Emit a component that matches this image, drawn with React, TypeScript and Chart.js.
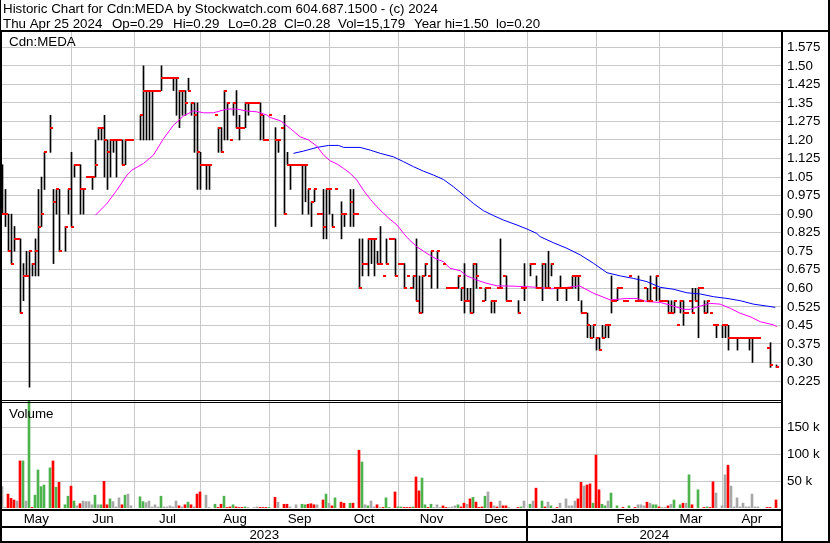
import React, { useEffect, useRef } from "react";
import { Chart, registerables } from "chart.js";

Chart.register(...registerables);

const _ = null;

// ---------- text ----------
const HEADER_1 = "Historic Chart for Cdn:MEDA by Stockwatch.com 604.687.1500 - (c) 2024";
const HEADER_2 = ["Thu Apr 25 2024", "Op=0.29", "Hi=0.29", "Lo=0.28", "Cl=0.28", "Vol=15,179", "Year hi=1.50", "lo=0.20"];
const PRICE_TITLE = "Cdn:MEDA";
const VOLUME_TITLE = "Volume";

// ---------- categories / ticks ----------
const MONTH_NAMES = ["May", "Jun", "Jul", "Aug", "Sep", "Oct", "Nov", "Dec", "Jan", "Feb", "Mar", "Apr"];
const MONTH_START = [23, 44, 66, 89, 109, 132, 154, 175, 198, 219, 240]; // trading-day index of month gridlines
const YEAR_NAMES = ["2023", "2024"];
const YEAR_START = 175;
const PRICE_TICKS = [0.225, 0.3, 0.375, 0.45, 0.525, 0.6, 0.675, 0.75, 0.825, 0.9, 0.975, 1.05, 1.125, 1.2, 1.275, 1.35, 1.425, 1.5, 1.575];
const PRICE_LABELS = ["0.225", "0.30", "0.375", "0.45", "0.525", "0.60", "0.675", "0.75", "0.825", "0.90", "0.975", "1.05", "1.125", "1.20", "1.275", "1.35", "1.425", "1.50", "1.575"];
const VOLUME_TICKS = [50000, 100000, 150000];
const VOLUME_LABELS = ["50 k", "100 k", "150 k"];

// ---------- daily prices (one entry per weekday, May 1 2023 .. Apr 25 2024) ----------
const HIGH = [
  /* May */ 1.10, 1.00, 0.90, 0.90, 0.85, 0.80, 0.80, 0.70, 0.75, 0.75, 0.70, 0.80, 1.00, 1.05, 1.15, _, 1.30, 1.00, 1.00, 1.00, _, 0.85, 1.00,
  /* Jun */ 1.15, 1.10, 1.10, 1.10, 1.00, 1.05, 1.05, 1.05, 1.20, 1.25, 1.25, 1.30, 1.20, 1.20, 1.20, 1.20, 1.20, 1.20, 1.20, 1.20, 1.20, _,
  /* Jul */ _, 1.30, 1.50, 1.40, 1.40, 1.40, 1.40, 1.40, 1.50, 1.45, 1.45, 1.45, 1.45, 1.45, 1.40, 1.40, 1.40, 1.45, 1.35, 1.35, 1.35,
  /* Aug */ 1.15, 1.10, 1.10, 1.10, _, 1.30, 1.25, 1.25, 1.40, 1.35, 1.20, 1.35, 1.40, 1.30, 1.25, 1.35, 1.35, 1.35, 1.35, 1.35, 1.35, 1.30, 1.20,
  /* Sep */ 1.30, _, 1.25, 1.20, 1.25, 1.30, 1.15, 1.10, 1.10, 1.10, 1.10, 1.10, 1.10, 1.00, 0.95, 1.00, 0.90, 0.90, 1.00, 1.00, 1.00,
  /* Oct */ 0.90, 1.00, _, 0.95, 0.90, _, 1.00, 1.00, 0.90, 0.80, 0.80, 0.70, 0.80, 0.80, 0.80, 0.75, 0.85, 0.65, 0.80, 0.80, 0.80, 0.80,
  /* Nov */ 0.70, 0.70, 0.70, 0.65, 0.60, 0.65, 0.80, 0.65, 0.65, 0.70, 0.65, 0.75, _, 0.75, _, 0.70, 0.60, 0.60, 0.60, 0.60, 0.65, 0.60,
  /* Dec */ 0.70, 0.60, 0.60, 0.70, 0.70, 0.60, 0.55, 0.60, 0.60, 0.55, 0.55, 0.60, 0.80, 0.65, 0.65, 0.55, _, _, 0.55, 0.60, 0.70,
  /* Jan */ _, 0.70, 0.70, 0.65, 0.60, 0.70, 0.70, 0.75, 0.70, 0.60, 0.60, 0.65, 0.60, 0.60, 0.60, 0.65, 0.65, 0.65, 0.55, 0.50, 0.50, 0.45, 0.45,
  /* Feb */ 0.40, 0.40, 0.45, 0.45, 0.45, 0.65, 0.55, 0.60, 0.60, 0.55, 0.55, 0.65, _, 0.55, 0.65, 0.55, 0.60, 0.60, 0.65, 0.60, 0.65,
  /* Mar */ 0.60, 0.55, 0.55, 0.55, 0.55, 0.55, 0.45, 0.55, 0.55, 0.50, 0.55, 0.60, 0.60, 0.60, 0.60, 0.55, 0.55, 0.50, 0.45, 0.45, _,
  /* Apr */ 0.45, 0.45, 0.45, 0.40, 0.40, 0.40, 0.40, 0.40, 0.40, 0.40, 0.40, 0.40, 0.40, _, _, 0.36, 0.38, _, 0.29,
];
const LOW = [
  /* May */ 0.90, 0.85, 0.75, 0.70, 0.75, 0.80, 0.50, 0.55, 0.65, 0.20, 0.65, 0.65, 0.65, 0.85, 1.00, _, 1.15, 0.70, 0.90, 0.75, _, 0.75, 0.90,
  /* Jun */ 0.85, 1.05, 1.10, 0.90, 0.90, 1.05, 1.05, 1.00, 1.05, 1.20, 1.20, 1.05, 1.00, 1.05, 1.15, 1.05, 1.20, 1.10, 1.10, 1.20, 1.20, _,
  /* Jul */ _, 1.20, 1.20, 1.20, 1.20, 1.20, 1.40, 1.40, 1.40, 1.45, 1.45, 1.45, 1.40, 1.30, 1.25, 1.30, 1.30, 1.40, 1.30, 1.15, 1.00,
  /* Aug */ 1.00, 1.10, 1.00, 1.00, _, 1.30, 1.15, 1.15, 1.20, 1.20, 1.20, 1.30, 1.25, 1.20, 1.25, 1.25, 1.30, 1.35, 1.35, 1.35, 1.20, 1.20, 1.20,
  /* Sep */ 1.30, _, 0.85, 1.15, 1.25, 0.90, 1.10, 1.00, 1.10, 1.10, 1.10, 0.90, 0.95, 0.90, 0.85, 0.95, 0.90, 0.90, 0.80, 0.80, 0.90,
  /* Oct */ 0.85, 1.00, _, 0.80, 0.85, _, 0.85, 0.85, 0.90, 0.60, 0.65, 0.70, 0.65, 0.70, 0.65, 0.70, 0.70, 0.65, 0.70, 0.80, 0.80, 0.65,
  /* Nov */ 0.70, 0.70, 0.60, 0.65, 0.60, 0.60, 0.55, 0.50, 0.50, 0.65, 0.65, 0.60, _, 0.60, _, 0.70, 0.60, 0.60, 0.60, 0.60, 0.60, 0.55,
  /* Dec */ 0.50, 0.55, 0.50, 0.50, 0.60, 0.60, 0.55, 0.55, 0.60, 0.50, 0.50, 0.60, 0.60, 0.65, 0.55, 0.55, _, _, 0.50, 0.60, 0.55,
  /* Jan */ _, 0.65, 0.70, 0.60, 0.60, 0.55, 0.60, 0.60, 0.65, 0.60, 0.55, 0.60, 0.60, 0.55, 0.60, 0.60, 0.60, 0.55, 0.50, 0.50, 0.40, 0.40, 0.40,
  /* Feb */ 0.35, 0.35, 0.40, 0.40, 0.40, 0.50, 0.55, 0.55, 0.60, 0.55, 0.55, 0.65, _, 0.55, 0.55, 0.55, 0.60, 0.55, 0.55, 0.60, 0.55,
  /* Mar */ 0.55, 0.55, 0.55, 0.50, 0.50, 0.50, 0.45, 0.50, 0.45, 0.50, 0.55, 0.50, 0.55, 0.40, 0.60, 0.50, 0.50, 0.50, 0.45, 0.40, _,
  /* Apr */ 0.40, 0.40, 0.35, 0.40, 0.40, 0.35, 0.40, 0.40, 0.40, 0.35, 0.30, 0.40, 0.40, _, _, 0.36, 0.28, _, 0.28,
];
const CLOSE = [
  /* May */ 0.90, 0.90, 0.75, 0.70, 0.80, 0.80, 0.50, 0.65, 0.65, 0.75, 0.70, 0.75, 0.85, 0.90, 1.15, _, 1.25, 0.95, 1.00, 0.75, _, 0.85, 1.00,
  /* Jun */ 0.85, 1.10, 1.10, 1.00, 1.00, 1.05, 1.05, 1.05, 1.10, 1.25, 1.25, 1.20, 1.15, 1.20, 1.20, 1.20, 1.20, 1.10, 1.20, 1.20, 1.20, _,
  /* Jul */ _, 1.30, 1.40, 1.40, 1.40, 1.40, 1.40, 1.40, 1.45, 1.45, 1.45, 1.45, 1.45, 1.45, 1.40, 1.40, 1.35, 1.40, 1.35, 1.30, 1.15,
  /* Aug */ 1.10, 1.10, 1.10, 1.10, _, 1.30, 1.25, 1.15, 1.40, 1.35, 1.20, 1.35, 1.25, 1.25, 1.25, 1.35, 1.35, 1.35, 1.35, 1.35, 1.30, 1.20, 1.20,
  /* Sep */ 1.30, _, 1.20, 1.20, 1.25, 0.90, 1.10, 1.10, 1.10, 1.10, 1.10, 1.10, 1.10, 1.00, 0.95, 1.00, 0.90, 0.90, 0.85, 1.00, 1.00,
  /* Oct */ 0.85, 1.00, _, 0.90, 0.90, _, 0.95, 0.90, 0.90, 0.60, 0.70, 0.70, 0.80, 0.80, 0.80, 0.70, 0.70, 0.65, 0.70, 0.80, 0.80, 0.65,
  /* Nov */ 0.70, 0.70, 0.60, 0.65, 0.60, 0.65, 0.55, 0.50, 0.65, 0.70, 0.65, 0.75, _, 0.75, _, 0.70, 0.60, 0.60, 0.60, 0.60, 0.65, 0.60,
  /* Dec */ 0.55, 0.55, 0.50, 0.70, 0.65, 0.60, 0.55, 0.60, 0.60, 0.55, 0.55, 0.60, 0.60, 0.65, 0.55, 0.55, _, _, 0.50, 0.60, 0.60,
  /* Jan */ _, 0.70, 0.70, 0.60, 0.60, 0.70, 0.60, 0.60, 0.70, 0.60, 0.60, 0.60, 0.60, 0.60, 0.60, 0.65, 0.65, 0.65, 0.50, 0.50, 0.45, 0.40, 0.45,
  /* Feb */ 0.40, 0.35, 0.40, 0.45, 0.45, 0.55, 0.55, 0.60, 0.60, 0.55, 0.55, 0.65, _, 0.55, 0.55, 0.55, 0.60, 0.55, 0.55, 0.60, 0.65,
  /* Mar */ 0.55, 0.55, 0.55, 0.50, 0.50, 0.55, 0.45, 0.55, 0.50, 0.50, 0.55, 0.50, 0.55, 0.60, 0.60, 0.50, 0.55, 0.50, 0.45, 0.45, _,
  /* Apr */ 0.45, 0.45, 0.40, 0.40, 0.40, 0.40, 0.40, 0.40, 0.40, 0.40, 0.40, 0.40, 0.40, _, _, 0.36, 0.29, _, 0.28,
];

// ---------- daily volume (thousands) and direction (g up, r down, n unchanged) ----------
const VOLUME_K = [
  /* May */ 40, 1, 26, 18, 15, 13, 88, 88, 13, 210, 1, 24, 71, 40, 43, _, 75, 88, 39, 48, _, 6, 22,
  /* Jun */ 41, 13, 4, 8, 13, 12, 12, 6, 24, 6, 6, 50, 6, 17, 12, 2, 19, 6, 24, 26, 4, _,
  /* Jul */ _, 21, 12, 10, 13, 2, 6, 2, 22, 2, 2, 4, 2, 13, 4, 2, 6, 11, 6, 2, 26,
  /* Aug */ 30, _, 24, 1, _, 7, 1, 7, 22, 1, 2, 6, 2, 1, 1, 2, 1, _, 1, 2, 1, 1, 1,
  /* Sep */ 1, _, 20, 11, _, 7, 7, 2, _, 6, _, 7, 6, 7, 8, 6, 6, _, 15, 26, 9,
  /* Oct */ 4, 19, _, 11, 9, _, 9, 9, _, 108, 86, 6, 4, 13, 2, 6, 1, 1, 19, 1, _, 30,
  /* Nov */ 2, 2, 1, 1, 1, 2, 58, 32, 56, 6, 1, 7, 1, 6, 1, 4, 1, 1, 2, 4, 6, 2,
  /* Dec */ 9, 7, 17, 20, 11, 1, 2, 22, 30, 11, 4, 2, 13, 4, 4, 1, _, _, 1, 2, 13,
  /* Jan */ _, 7, 13, 37, _, 13, 2, 11, 4, _, 1, 9, _, 17, 4, 4, 13, 17, 48, 41, 43, 45, 9,
  /* Feb */ 99, 34, 7, 4, 13, 28, _, 4, _, 1, _, 4, _, 1, 6, 6, 4, 11, 9, 6, 6,
  /* Mar */ 2, 1, 1, 4, 7, 15, _, 6, 9, 9, 62, 6, _, 34, _, 1, 2, 1, 49, 28, _,
  /* Apr */ 4, 62, 80, 41, 2, 19, 2, 9, 2, 2, 26, 2, 2, _, _, 1, 1, _, 15,
];
const VOLUME_DIR =
  "nnrrrnrgngrgggg.grgr.gg" + // May
  "rgnrnnnngngrrgnnnrgnn." + // Jun
  ".ggnnnnngnnnnnrnrgrnr" + // Jul
  "r.nn.grrgrrgrrrgn.nnrrr" + // Aug
  "g.rn.rrn.n.ggrrrn.rgn" + // Sep
  "rg.rr.gr.rgngnnrnrgg.r" + // Oct
  "ggrrrgrrggrgnnnrrnnngr" + // Nov
  "rnrgrrrgnrnrnrrn..rgn" + // Dec
  ".gnr.grng.rn.nnnnrrnrrg" + // Jan
  "rrggng.g.r.g.rnnnrngg" + // Feb
  "rnnrng.grngr.g.rgrrn." + // Mar
  "nnrnnnnnnnnnn..rr.r"; // Apr

// ---------- moving averages: [trading-day index, price] ----------
const MA_SHORT: [number, number][] = [
  [31, 0.896], [34.8, 0.943], [38.1, 0.997], [41.5, 1.058], [43.1, 1.078], [47, 1.105], [50.3, 1.139], [53.7, 1.206],
  [57, 1.26], [60.3, 1.297], [63.7, 1.318], [67, 1.31], [70.3, 1.31], [74.8, 1.325], [78.1, 1.325], [81.5, 1.317],
  [84.8, 1.314], [88.1, 1.301], [89.2, 1.291], [92.6, 1.278], [95.9, 1.247], [99.2, 1.213], [102, 1.2], [104.8, 1.175],
  [107, 1.139], [109.2, 1.116], [111.5, 1.103], [113.7, 1.085], [115.9, 1.065], [118.1, 1.038], [120.3, 0.997],
  [122.6, 0.96], [124.8, 0.93], [127, 0.903], [129.2, 0.879], [131.5, 0.856], [133.7, 0.822], [135.3, 0.8],
  [138.1, 0.768], [141.5, 0.741], [144.8, 0.717], [147, 0.708], [149.2, 0.681], [152.6, 0.671], [154.8, 0.65],
  [158.1, 0.633], [161.5, 0.62], [164.8, 0.61], [169.2, 0.609], [173.7, 0.607], [178.1, 0.604], [182.6, 0.598],
  [185.9, 0.6], [190.3, 0.607], [192.3, 0.61], [197, 0.58], [202.6, 0.553], [208.1, 0.559], [211.5, 0.559],
  [214.8, 0.546], [219.2, 0.543], [223.7, 0.528], [227, 0.515], [229.2, 0.515], [232.6, 0.528], [235.9, 0.539],
  [239.2, 0.536], [242.6, 0.519], [245.9, 0.499], [249.2, 0.485], [252.6, 0.465], [257, 0.452], [258.1, 0.445],
];
const MA_LONG: [number, number][] = [
  [97, 1.146], [100.3, 1.155], [104.8, 1.17], [108.7, 1.178], [112, 1.178], [113.7, 1.17], [119.2, 1.17], [122.6, 1.159],
  [125.9, 1.146], [130.3, 1.132], [133.7, 1.112], [137, 1.092], [140.3, 1.074], [143.7, 1.058], [147, 1.04],
  [150.3, 1.011], [153.7, 0.977], [157, 0.943], [160.3, 0.914], [163.7, 0.894], [167, 0.876], [171.5, 0.856],
  [174.8, 0.84], [178.1, 0.822], [179.2, 0.809], [183.7, 0.784], [188.1, 0.762], [192.6, 0.735], [197, 0.701],
  [201.5, 0.663], [206, 0.65], [210.3, 0.64], [214.8, 0.627], [219.2, 0.604], [223.7, 0.596], [228.1, 0.582],
  [232.6, 0.577], [237, 0.566], [241.5, 0.559], [245.9, 0.55], [250.3, 0.536], [254.8, 0.528], [257.6, 0.523],
];

// ---------- styles ----------
const FONT_FAMILY = "'Liberation Sans', Arial, sans-serif";
const FONT_SIZE = 13.33;
const FONT = `${FONT_SIZE}px ${FONT_FAMILY}`;
const GRID = "#c8c8c8";
const VOL_COLORS: Record<string, string> = { g: "#4db34d", r: "#ff0000", n: "#a8a8a8" };
const VOL_MAX = 200000;
const HEADER_2_X = [3, 112, 173, 228, 284, 338, 414, 496];

function makeCloseTick(): HTMLCanvasElement {
  const c = document.createElement("canvas");
  c.width = 7;
  c.height = 2;
  const g = c.getContext("2d")!;
  g.fillStyle = "#ff0000";
  g.fillRect(3, 0, 3, 2);
  return c;
}

const framePlugin = {
  id: "frame",
  beforeDraw(chart: any) {
    const { ctx, width, height } = chart;
    ctx.save();
    ctx.fillStyle = "#ffffff";
    ctx.fillRect(0, 0, width, height);
    ctx.restore();
  },
  afterDraw(chart: any) {
    const { ctx, width, height, chartArea } = chart;
    const xs = chart.scales.x;
    const right = chartArea.right;
    ctx.save();
    ctx.fillStyle = "#000";
    ctx.font = FONT;
    ctx.textBaseline = "alphabetic";
    ctx.textAlign = "left";
    ctx.fillText(HEADER_1, 3, 13);
    HEADER_2.forEach((t, k) => ctx.fillText(t, HEADER_2_X[k], 28));
    ctx.fillText(PRICE_TITLE, 9, 46);
    ctx.fillText(VOLUME_TITLE, 9, 418);

    // frame lines
    ctx.fillRect(0, 30, width, 2);
    ctx.fillRect(0, 0, 1, height);
    ctx.fillRect(0, 32, 2, height - 32);
    ctx.fillRect(width - 2, 0, 2, height);
    ctx.fillRect(right, 32, 2, height - 32);
    ctx.fillRect(0, 400, right + 2, 1);
    ctx.fillRect(0, 402, right + 2, 1);
    ctx.fillRect(0, 509, right + 2, 2);
    ctx.fillRect(0, 526, right + 2, 2);
    ctx.fillRect(0, height - 2, width, 2);

    // month labels
    const bounds = [chartArea.left, ...MONTH_START.map((v) => xs.getPixelForValue(v)), right];
    ctx.textAlign = "center";
    MONTH_NAMES.forEach((m, k) => {
      ctx.fillText(m, (bounds[k] + bounds[k + 1]) / 2, 523);
    });
    // year labels
    const split = xs.getPixelForValue(YEAR_START);
    ctx.fillRect(Math.floor(split) - 1, 509, 2, height - 509);
    ctx.fillText(YEAR_NAMES[0], (chartArea.left + split) / 2, 539);
    ctx.fillText(YEAR_NAMES[1], (split + right) / 2, 539);
    ctx.restore();
  },
};

export default function App() {
  const ref = useRef<HTMLCanvasElement>(null);

  useEffect(() => {
    document.body.style.margin = "0";
    const canvas = ref.current!;

    const n = HIGH.length;
    const rangeData: any[] = [];
    const closeData: any[] = [];
    const volData: any[] = [];
    const volColors: string[] = [];
    for (let i = 0; i < n; i++) {
      const h = HIGH[i], l = LOW[i], c = CLOSE[i], v = VOLUME_K[i];
      if (h != null && l != null && h > l) rangeData.push({ x: i, y: [l, h] });
      if (c != null) closeData.push({ x: i, y: c });
      if (v != null) {
        volData.push({ x: i, y: Math.min(v * 1000, VOL_MAX) });
        volColors.push(VOL_COLORS[VOLUME_DIR[i]] || VOL_COLORS.n);
      }
    }

    const tickFont = { family: FONT_FAMILY, size: FONT_SIZE };

    const chart = new Chart(canvas, {
      type: "bar",
      data: {
        datasets: [
          {
            type: "line",
            label: "Close",
            data: closeData,
            xAxisID: "x",
            yAxisID: "y",
            showLine: false,
            pointStyle: makeCloseTick(),
            pointRadius: 2,
            order: 0,
          } as any,
          {
            type: "line",
            label: "MA short",
            data: MA_SHORT.map(([x, y]) => ({ x, y })),
            xAxisID: "x",
            yAxisID: "y",
            borderColor: "#ff00ff",
            borderWidth: 1,
            pointRadius: 0,
            tension: 0,
            order: 1,
          },
          {
            type: "line",
            label: "MA long",
            data: MA_LONG.map(([x, y]) => ({ x, y })),
            xAxisID: "x",
            yAxisID: "y",
            borderColor: "#0000ff",
            borderWidth: 1,
            pointRadius: 0,
            tension: 0,
            order: 1,
          },
          {
            type: "bar",
            label: "Range",
            data: rangeData,
            xAxisID: "x",
            yAxisID: "y",
            backgroundColor: "#000000",
            barThickness: 1,
            grouped: false,
            order: 2,
          },
          {
            type: "bar",
            label: "Volume",
            data: volData,
            xAxisID: "xv",
            yAxisID: "yv",
            backgroundColor: volColors,
            barThickness: 2,
            grouped: false,
            order: 3,
          },
        ],
      } as any,
      options: {
        responsive: false,
        animation: false,
        devicePixelRatio: 1,
        events: [],
        layout: { autoPadding: false, padding: { left: 1, top: 32, right: 0, bottom: 35 } },
        plugins: { legend: { display: false }, tooltip: { enabled: false } },
        scales: {
          x: {
            type: "linear",
            position: "bottom",
            min: -0.5,
            max: 259.5,
            offset: false,
            afterBuildTicks: (s: any) => {
              s.ticks = MONTH_START.map((v) => ({ value: v }));
            },
            afterFit: (s: any) => {
              s.height = 0;
            },
            ticks: { display: false },
            grid: { color: GRID, lineWidth: 1, drawTicks: false, offset: false },
            border: { display: false },
          },
          xv: {
            type: "linear",
            display: false,
            min: -0.5 + 1 / 6,
            max: 259.5 + 1 / 6,
            offset: false,
          },
          y: {
            type: "linear",
            position: "right",
            stack: "panels",
            stackWeight: 369,
            min: 0.1441,
            max: 1.6369,
            offset: false,
            afterBuildTicks: (s: any) => {
              s.ticks = PRICE_TICKS.map((v) => ({ value: v }));
            },
            afterFit: (s: any) => {
              s.width = 49;
            },
            ticks: {
              autoSkip: false,
              padding: 6,
              color: "#000",
              font: tickFont,
              callback: (_v: any, i: number) => PRICE_LABELS[i],
            },
            grid: { color: GRID, lineWidth: 1, drawTicks: false },
            border: { display: false },
          },
          yv: {
            type: "linear",
            position: "right",
            stack: "panels",
            stackWeight: 107,
            min: 0,
            max: VOL_MAX,
            offset: false,
            afterBuildTicks: (s: any) => {
              s.ticks = VOLUME_TICKS.map((v) => ({ value: v }));
            },
            afterFit: (s: any) => {
              s.width = 49;
            },
            ticks: {
              autoSkip: false,
              padding: 6,
              color: "#000",
              font: tickFont,
              callback: (_v: any, i: number) => VOLUME_LABELS[i],
            },
            grid: { color: GRID, lineWidth: 1, drawTicks: false },
            border: { display: false },
          },
        },
      } as any,
      plugins: [framePlugin],
    });

    return () => chart.destroy();
  }, []);

  return (
    <canvas
      ref={ref}
      width={830}
      height={543}
      style={{ display: "block", width: 830, height: 543 }}
    />
  );
}
